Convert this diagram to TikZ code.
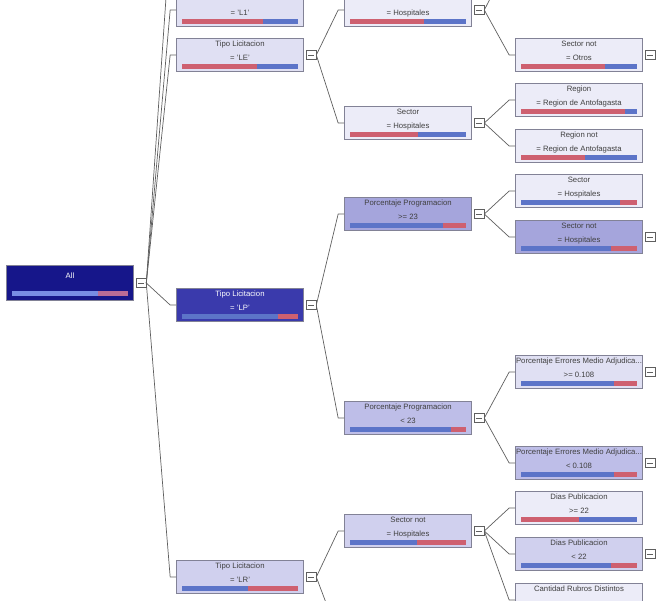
\documentclass[tikz,border=0pt]{standalone}
\usepackage{fontspec}
\setmainfont{Liberation Sans}
\usetikzlibrary{positioning}
\definecolor{nodeedge}{RGB}{130,130,150}
\definecolor{linkgray}{RGB}{95,95,95}
\definecolor{lvl0}{RGB}{22,22,138}
\definecolor{lvl1}{RGB}{58,58,172}
\definecolor{lvl2}{RGB}{165,165,220}
\definecolor{lvl3}{RGB}{190,190,232}
\definecolor{lvl4}{RGB}{208,208,238}
\definecolor{lvl5}{RGB}{224,224,243}
\definecolor{lvl6}{RGB}{236,236,248}
\definecolor{votered}{RGB}{206,96,112}
\definecolor{voteblue}{RGB}{92,116,200}
\definecolor{rootblue}{RGB}{120,140,228}
\definecolor{rootred}{RGB}{186,108,150}

\newlength{\barlen}
\setlength{\barlen}{2.32cm}
\newcommand{\votebar}[3]{{\color{#2}\rule{#1\barlen}{0.1cm}}{\color{#3}\rule{\dimexpr\barlen-#1\barlen\relax}{0.1cm}}}
\newcommand{\hiddenline}{\rule{0pt}{3.2pt}}

\begin{document}
\begin{tikzpicture}[
    x=0.02cm, y=-0.02cm,
    treebox/.style={rectangle, draw=nodeedge, fill=#1, minimum width=2.54cm, inner xsep=0pt, inner ysep=1.4pt, align=center, text=black!75, font=\fontsize{4.4}{8}\selectfont},
    darkbox/.style={treebox=#1, text=white},
    expander/.style={rectangle, draw=linkgray, fill=white, minimum width=0.2cm, minimum height=0.17cm, inner sep=0pt,
        path picture={\draw[linkgray, line width=0.3pt] ([xshift=0.04cm]path picture bounding box.west) -- ([xshift=-0.04cm]path picture bounding box.east);}},
    link/.style={draw=linkgray, line width=0.4pt}
]
\useasboundingbox (0,0) rectangle (659,600);
\clip (0,0) rectangle (659,600);

% root
\node[darkbox=lvl0, minimum height=0.7cm] (all) at (70,283) {\rule{0pt}{5pt}All\\[2pt]\votebar{0.74}{rootblue}{rootred}};

% level 1
\node[treebox=lvl5] (tipoA) at (240,10) {\hiddenline\\= 'L1'\\[-3.2pt]\votebar{0.70}{votered}{voteblue}};
\node[treebox=lvl5] (tipoB) at (240,55) {Tipo Licitacion\\= 'LE'\\[-3.2pt]\votebar{0.65}{votered}{voteblue}};
\node[darkbox=lvl1] (tipoC) at (240,305) {Tipo Licitacion\\= 'LP'\\[-3.2pt]\votebar{0.83}{voteblue}{votered}};
\node[treebox=lvl4] (tipoD) at (240,577) {Tipo Licitacion\\= 'LR'\\[-3.2pt]\votebar{0.57}{voteblue}{votered}};

% level 2
\node[treebox=lvl6] (sectE) at (408,10) {\hiddenline\\= Hospitales\\[-3.2pt]\votebar{0.64}{votered}{voteblue}};
\node[treebox=lvl6] (sectF) at (408,123) {Sector\\= Hospitales\\[-3.2pt]\votebar{0.59}{votered}{voteblue}};
\node[treebox=lvl2] (progG) at (408,214) {Porcentaje Programacion\\>= 23\\[-3.2pt]\votebar{0.80}{voteblue}{votered}};
\node[treebox=lvl3] (progH) at (408,418) {Porcentaje Programacion\\< 23\\[-3.2pt]\votebar{0.87}{voteblue}{votered}};
\node[treebox=lvl4] (sectI) at (408,531) {Sector not\\= Hospitales\\[-3.2pt]\votebar{0.58}{voteblue}{votered}};

% level 3
\node[treebox=lvl6] (otroJ) at (579,55) {Sector not\\= Otros\\[-3.2pt]\votebar{0.72}{votered}{voteblue}};
\node[treebox=lvl6] (regK) at (579,100) {Region\\= Region de Antofagasta\\[-3.2pt]\votebar{0.90}{votered}{voteblue}};
\node[treebox=lvl6] (regL) at (579,146) {Region not\\= Region de Antofagasta\\[-3.2pt]\votebar{0.55}{votered}{voteblue}};
\node[treebox=lvl6] (sectM) at (579,191) {Sector\\= Hospitales\\[-3.2pt]\votebar{0.85}{voteblue}{votered}};
\node[treebox=lvl2] (sectN) at (579,237) {Sector not\\= Hospitales\\[-3.2pt]\votebar{0.78}{voteblue}{votered}};
\node[treebox=lvl5] (errO) at (579,372) {Porcentaje Errores Medio Adjudica...\\>= 0.108\\[-3.2pt]\votebar{0.80}{voteblue}{votered}};
\node[treebox=lvl3] (errP) at (579,463) {Porcentaje Errores Medio Adjudica...\\< 0.108\\[-3.2pt]\votebar{0.80}{voteblue}{votered}};
\node[treebox=lvl6] (diasQ) at (579,508) {Dias Publicacion\\>= 22\\[-3.2pt]\votebar{0.50}{votered}{voteblue}};
\node[treebox=lvl4] (diasR) at (579,554) {Dias Publicacion\\< 22\\[-3.2pt]\votebar{0.78}{voteblue}{votered}};
\node[treebox=lvl6] (rubS) at (579,600) {Cantidad Rubros Distintos\\\mbox{}\\[-3.2pt]\votebar{0.50}{voteblue}{votered}};

% expanders
\foreach \n in {all, tipoB, tipoC, tipoD, sectE, sectF, progG, progH, sectI, otroJ, sectN, errO, errP, diasR}
    \node[expander, right=1pt of \n] (\n x) {};

% children beyond the visible area
\coordinate (allup) at (170,-60);
\coordinate (sectEup) at (510,-40);
\coordinate (tipoDdown) at (340,640);

% connectors
\foreach \p/\c in {all/tipoA, all/tipoB, all/tipoC, all/tipoD, tipoB/sectE, tipoB/sectF, tipoC/progG, tipoC/progH, tipoD/sectI,
    sectE/otroJ, sectF/regK, sectF/regL, progG/sectM, progG/sectN, progH/errO, progH/errP, sectI/diasQ, sectI/diasR, sectI/rubS}
    \draw[link] (\p x.east) -- ([xshift=-0.12cm]\c.west) -- (\c.west);
\draw[link] (allx.east) -- (allup);
\draw[link] (sectEx.east) -- (sectEup);
\draw[link] (tipoDx.east) -- (tipoDdown);
\end{tikzpicture}
\end{document}
